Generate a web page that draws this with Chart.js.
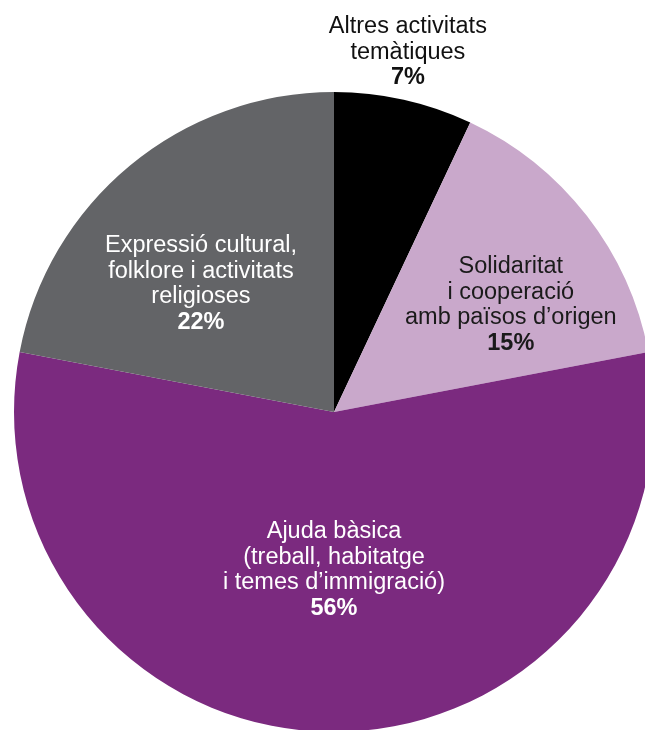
<!DOCTYPE html>
<html>
<head>
<meta charset="utf-8">
<script src="https://cdn.jsdelivr.net/npm/chart.js@4"></script>
<style>
    html, body { margin: 0; padding: 0; width: 645px; height: 730px; overflow: hidden; background: #fff; }
    #wrap { position: absolute; left: 0; top: 0; width: 654px; height: 732px; }
</style>
</head>
<body>
<div id="wrap"><canvas id="pieChart"></canvas></div>
<script>
// Categories (one array of lines per slice)
const categories = [
    ['Altres activitats', 'temàtiques'],
    ['Solidaritat', 'i cooperació', 'amb països d’origen'],
    ['Ajuda bàsica', '(treball, habitatge', 'i temes d’immigració)'],
    ['Expressió cultural,', 'folklore i activitats', 'religioses']
];

// Share of each category (%)
const shares = [7, 15, 56, 22];

// Slice colors
const sliceColors = ['#000000', '#c9a8cb', '#7b2a7f', '#636467'];
const textColors = ['#111111', '#1a1a1a', '#ffffff', '#ffffff'];

// Label placement: radius factor and angle nudge (degrees)
const labelPlace = [
    { f: 1.148, da: -1 },
    { f: 0.646, da: 6.6 },
    { f: 0.494, da: 0 },
    { f: 0.577, da: -6.5 }
];

const FONT = '"Liberation Sans", Arial, Helvetica, sans-serif';
const LINE_H = 25.5;

// Draw the multi-line labels for each slice
const sliceLabels = {
    id: 'sliceLabels',
    afterDraw(chart) {
        const ctx = chart.ctx;
        const arcs = chart.getDatasetMeta(0).data;
        ctx.save();
        ctx.textAlign = 'center';
        ctx.textBaseline = 'middle';
        arcs.forEach((arc, i) => {
            const p = arc.getProps(['x', 'y', 'startAngle', 'endAngle', 'outerRadius'], true);
            const mid = (p.startAngle + p.endAngle) / 2 + labelPlace[i].da * Math.PI / 180;
            const r = p.outerRadius * labelPlace[i].f;
            const cx = p.x + Math.cos(mid) * r;
            const cy = p.y + Math.sin(mid) * r;
            const lines = categories[i].concat([shares[i] + '%']);
            const top = cy - (lines.length - 1) * LINE_H / 2;
            ctx.fillStyle = textColors[i];
            lines.forEach((line, j) => {
                const last = j === lines.length - 1;
                ctx.font = (last ? 'bold ' : '') + '23.5px ' + FONT;
                ctx.fillText(line, cx, top + j * LINE_H);
            });
        });
        ctx.restore();
    }
};

new Chart(document.getElementById('pieChart'), {
    type: 'pie',
    data: {
        labels: categories.map(c => c.join(' ')),
        datasets: [{
            data: shares,
            backgroundColor: sliceColors,
            borderWidth: 0,
            hoverOffset: 0
        }]
    },
    options: {
        responsive: true,
        maintainAspectRatio: false,
        animation: false,
        // pie sits low and runs off the right/bottom edge, label of first slice above it
        layout: { padding: { left: 14, top: 92, right: 0, bottom: 0 } },
        plugins: {
            legend: { display: false },
            tooltip: { enabled: false }
        }
    },
    plugins: [sliceLabels]
});
</script>
</body>
</html>
